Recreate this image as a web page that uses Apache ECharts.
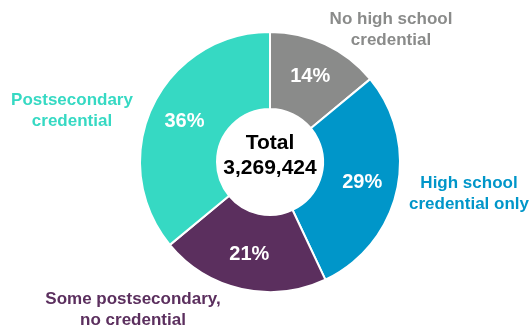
<!DOCTYPE html>
<html>
<head>
<meta charset="utf-8">
<script src="https://cdn.jsdelivr.net/npm/echarts@6/dist/echarts.min.js"></script>
<style>html,body{margin:0;padding:0;background:#fff}#c{width:532px;height:325px}</style>
</head>
<body>
<div id="c"></div>
<script>
var categories = ['No high school credential', 'High school credential only', 'Some postsecondary, no credential', 'Postsecondary credential'];
var labelLines = [['No high school', 'credential'], ['High school', 'credential only'], ['Some postsecondary,', 'no credential'], ['Postsecondary', 'credential']];
var percents = [14, 29, 21, 36];
var colors = ['#8a8b8a', '#0096c9', '#5b2f5e', '#36d9c3'];
var totalLabel = 'Total';
var totalValue = '3,269,424';

var labelPos = [[391, 30], [469, 194], [133, 310], [72, 111]];
var font = '"Liberation Sans", Arial, sans-serif';

var chart = echarts.init(document.getElementById('c'));
var graphics = categories.map(function (c, i) {
  return {
    type: 'text', x: labelPos[i][0], y: labelPos[i][1],
    style: {
      text: labelLines[i].join('\n'), fill: colors[i], font: 'bold 17px ' + font,
      textAlign: 'center', textVerticalAlign: 'middle', lineHeight: 21
    }
  };
});
graphics.push({
  type: 'text', x: 270, y: 156,
  style: {
    text: totalLabel + '\n' + totalValue, fill: '#000', font: 'bold 21px ' + font,
    textAlign: 'center', textVerticalAlign: 'middle', lineHeight: 25
  }
});
chart.setOption({
  animation: false,
  graphic: graphics,
  series: [{
    type: 'pie',
    center: [270, 162],
    radius: [53, 130],
    startAngle: 90,
    clockwise: true,
    avoidLabelOverlap: false,
    itemStyle: { borderColor: '#fff', borderWidth: 2 },
    label: {
      position: 'inside', formatter: '{c}%', color: '#fff',
      fontFamily: font, fontWeight: 'bold', fontSize: 20
    },
    labelLine: { show: false },
    data: categories.map(function (c, i) {
      return { name: c, value: percents[i], itemStyle: { color: colors[i] } };
    })
  }]
});
</script>
</body>
</html>
